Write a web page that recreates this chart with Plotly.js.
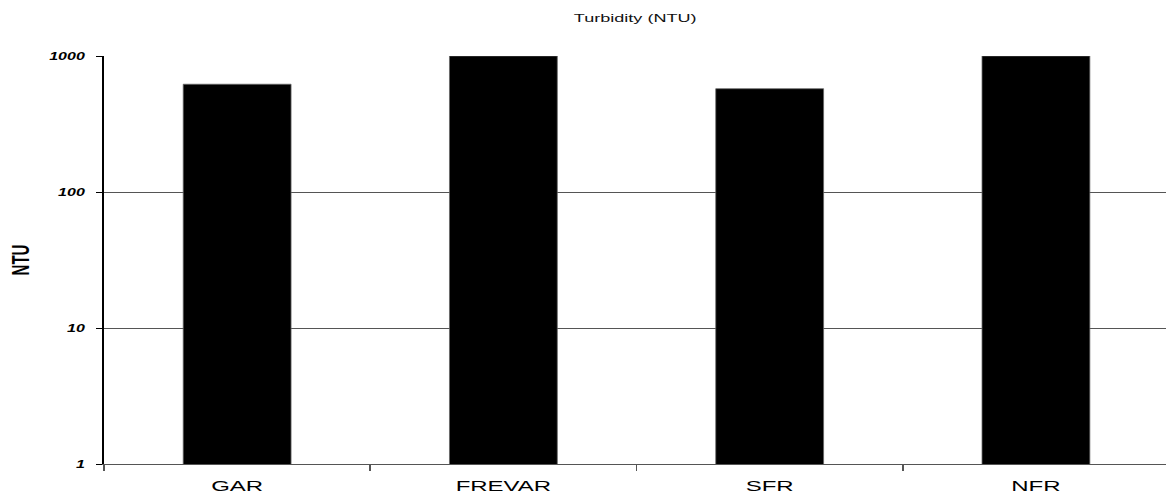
<!DOCTYPE html>
<html>
<head>
<meta charset="utf-8">
<script src="https://cdn.plot.ly/plotly-3.0.1.min.js"></script>
<style>
html, body { margin: 0; padding: 0; background: #fff; overflow: hidden; }
#chart { width: 728.75px; height: 497px; transform: scaleX(1.6); transform-origin: 0 0; }
</style>
</head>
<body>
<div id="chart"></div>
<script>
// Data
var categories = ["GAR", "FREVAR", "SFR", "NFR"];
var turbidity = [620, 1000, 575, 1000];
var yTickVals = [1, 10, 100, 1000];
var yTickText = ["1", "10", "100", "1000"];

var trace = {
  type: "bar",
  x: categories,
  y: turbidity,
  width: 0.405,
  marker: { color: "#000000", line: { color: "#666666", width: 0.6 } },
  hoverinfo: "x+y"
};

var layout = {
  width: 728.75,
  height: 497,
  margin: { l: 65, r: 0, t: 56, b: 33 },
  paper_bgcolor: "#ffffff",
  plot_bgcolor: "#ffffff",
  showlegend: false,
  font: { family: "Liberation Sans, Arial, sans-serif", color: "#000" },
  title: {
    text: "Turbidity (NTU)",
    font: { size: 11.3, family: "Liberation Sans, Arial, sans-serif", color: "#111" },
    x: 0.5, xref: "paper", xanchor: "center",
    y: 1 - 18 / 497, yref: "container", yanchor: "middle"
  },
  xaxis: {
    type: "category",
    range: [-0.5, 3.49],
    showline: true,
    linecolor: "#555555",
    linewidth: 1,
    ticks: "outside",
    tickson: "boundaries",
    ticklen: 6,
    tickcolor: "#555555",
    tickwidth: 1,
    showgrid: false,
    ticklabelstandoff: 8,
    tickfont: { size: 15, family: "Liberation Sans, Arial, sans-serif", color: "#000" },
    fixedrange: true
  },
  yaxis: {
    type: "log",
    range: [0, 3],
    tickvals: yTickVals,
    ticktext: yTickText,
    showline: true,
    linecolor: "#000000",
    linewidth: 1,
    ticks: "outside",
    ticklen: 4,
    tickcolor: "#000000",
    tickwidth: 1,
    showgrid: true,
    gridcolor: "#555555",
    gridwidth: 1,
    zeroline: false,
    ticklabelstandoff: 5,
    tickfont: { size: 10, family: "Liberation Sans, Arial, sans-serif", color: "#000", weight: "bold", style: "italic" },
    title: {
      text: "NTU",
      standoff: 8,
      font: { size: 15, family: "Liberation Sans, Arial, sans-serif", color: "#000", weight: "bold" }
    },
    fixedrange: true
  }
};

Plotly.newPlot("chart", [trace], layout, { displayModeBar: false, staticPlot: true });
</script>
</body>
</html>
